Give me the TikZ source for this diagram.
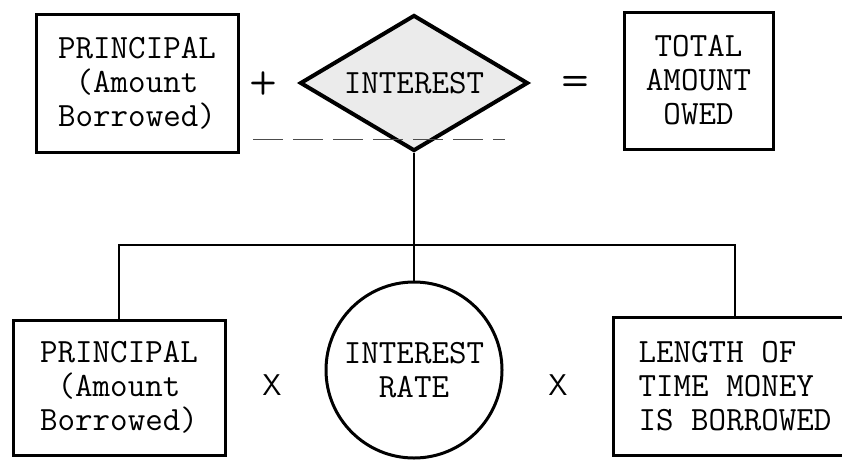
\documentclass[tikz,border=0pt]{standalone}
\usepackage{fontspec}
\usetikzlibrary{shapes.geometric}
\begin{document}
\begin{tikzpicture}[x=1pt,y=-1pt,
  txt/.style={font=\ttfamily\fontsize{34}{34}\selectfont},
  boxnode/.style={txt,draw,line width=3pt,inner sep=0pt,align=center},
  opnode/.style={font=\sffamily\bfseries\fontsize{32}{32}\selectfont,inner sep=0pt},
  xnode/.style={font=\sffamily\fontsize{30}{30}\selectfont,inner sep=0pt},
  conn/.style={line width=2.2pt}]
\useasboundingbox (0,0) rectangle (842,466);
% top row
\node[boxnode,minimum width=202pt,minimum height=138pt] (p1) at (137,83) {PRINCIPAL\\(Amount\\Borrowed)};
\node[opnode] (plus) at (263,83) {+};
\node[txt,draw,line width=4pt,shape=diamond,aspect=1.68,minimum width=228pt,minimum height=136pt,inner sep=0pt,fill=black!8] (int) at (414,83) {INTEREST};
\node[opnode] (eq) at (575,83) {=};
\node[boxnode,minimum width=149pt,minimum height=137pt] (tot) at (698.5,80.5) {TOTAL\\AMOUNT\\OWED};
% scan line
\coordinate (sl1) at (253,139);
\coordinate (sl2) at (505,139);
\draw[line width=0.8pt,dash pattern=on 30pt off 10pt,black!70] (sl1) -- (sl2);
% bottom row
\node[boxnode,minimum width=212pt,minimum height=135pt] (b1) at (119,387.5) {PRINCIPAL\\(Amount\\Borrowed)};
\node[xnode] (x1) at (272,385) {X};
\node[txt,draw,circle,line width=3pt,minimum size=176pt,inner sep=0pt,align=center] (rate) at (414,370) {INTEREST\\RATE};
\node[xnode] (x2) at (558,385) {X};
\node[txt,draw,line width=3pt,minimum width=244pt,minimum height=138pt,inner sep=0pt,align=left] (len) at (735,386) {LENGTH OF\\TIME MONEY\\IS BORROWED};
% connectors
\coordinate (bar) at (414,245);
\draw[conn] (int.south) -- (rate.north);
\draw[conn] (b1.north) |- (bar) -| (len.north);
\end{tikzpicture}
\end{document}
